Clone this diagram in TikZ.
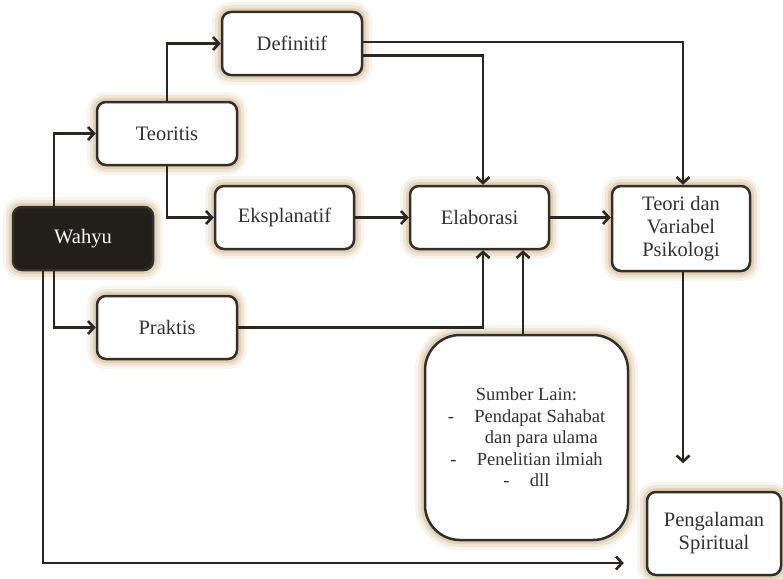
\documentclass[tikz,border=0pt]{standalone}
\usepackage{fontspec}
\setmainfont{Liberation Serif}
\usetikzlibrary{arrows.meta,calc}
\definecolor{linec}{HTML}{2A2622}
\definecolor{boxc}{HTML}{332E29}
\definecolor{glowc}{HTML}{D3B98F}
\definecolor{txtc}{HTML}{333130}
\definecolor{wfill}{HTML}{221E1A}
\tikzset{
  glow/.style={
    preaction={draw=glowc, line width=20pt, draw opacity=0.15},
    preaction={draw=glowc, line width=14pt, draw opacity=0.25},
    preaction={draw=glowc, line width=8pt, draw opacity=0.45}},
  box/.style={glow, draw=boxc, line width=2.5pt, rounded corners=9pt, fill=white,
    minimum width=140pt, minimum height=63pt, align=center, text=txtc,
    font=\fontsize{20.5}{23}\selectfont, inner sep=2pt},
  arr/.style={draw=linec, line width=2.6pt, -{Straight Barb[length=6pt,width=13pt]}}
}
\begin{document}
\begin{tikzpicture}[x=1pt,y=-1pt]
\useasboundingbox (0,0) rectangle (783,578);
\node[box] (def) at (292,43.5) {Definitif};
\node[box] (teo) at (167,133.5) {Teoritis};
\node[box, fill=wfill, text=white] (wah) at (83,238.5) {Wahyu};
\node[box, minimum width=139pt] (eks) at (284.5,217.5) {Eksplanatif};
\node[box, minimum width=139pt] (ela) at (479.5,217.5) {Elaborasi};
\node[box, minimum width=138pt, minimum height=85pt] (tvp) at (681,228.5) {Teori dan\\Variabel\\Psikologi};
\node[box] (pra) at (167,327.5) {Praktis};
\node[box, rounded corners=35pt, minimum width=203pt, minimum height=205pt,
  font=\fontsize{18.5}{21.5}\selectfont] (sum) at (526.5,437.5)
  {Sumber Lain:\\-\hspace{1.1em}Pendapat Sahabat\\\hspace*{1.6em}dan para ulama\\-\hspace{1.1em}Penelitian ilmiah\\-\hspace{1.1em}dll};
\node[box, minimum width=134pt, minimum height=83pt] (pen) at (714,533.5) {Pengalaman\\Spiritual};

\draw[arr] ([xshift=-29pt]wah.north) |- (teo.west);
\draw[arr] (teo.north) |- (def.west);
\draw[arr] (teo.south) |- (eks.west);
\draw[arr] ([xshift=-29pt]wah.south) |- (pra.west);
\coordinate (penin) at ([shift={(-22,29.5)}]pen.west);
\draw[arr] ([xshift=-40pt]wah.south) |- (penin);
\draw[arr] ([yshift=1.5pt]def.east) -| ([xshift=2pt]tvp.north);
\draw[arr] ([yshift=-12pt]def.east) -| ([xshift=3.5pt]ela.north);
\draw[arr] (eks.east) -- (ela.west);
\draw[arr] (ela.east) -- (ela.east -| tvp.west);
\draw[arr] (pra.east) -| ([xshift=3.5pt]ela.south);
\draw[arr] ([xshift=-3.5pt]sum.north) -- ([xshift=-3.5pt]sum.north |- ela.south);
\coordinate (tvpdown) at ([shift={(2,191)}]tvp.south);
\draw[arr] ([xshift=2pt]tvp.south) -- (tvpdown);
\end{tikzpicture}
\end{document}
